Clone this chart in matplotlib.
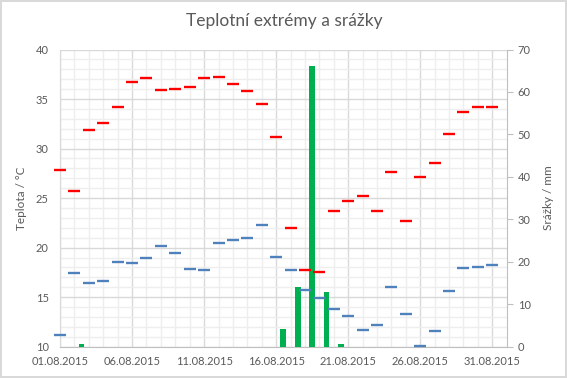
import numpy as np
import pandas as pd
import matplotlib
matplotlib.use("Agg")
import matplotlib.pyplot as plt
import matplotlib.dates as mdates
from matplotlib.ticker import MultipleLocator, FixedLocator

plt.rcParams['font.family'] = ['Lato', 'DejaVu Sans']

# data
dates = pd.date_range("2015-08-01", "2015-08-31", freq="D")
t_max = [27.8, 25.7, 31.9, 32.6, 34.2, 36.7, 37.1, 35.9, 36.0, 36.2,
         37.1, 37.2, 36.5, 35.8, 34.5, 31.2, 22.0, 17.7, 17.5, 23.7,
         24.7, 25.2, 23.7, 27.6, 22.7, 27.1, 28.5, 31.5, 33.7, 34.2, 34.2]
t_min = [11.2, 17.4, 16.4, 16.6, 18.5, 18.4, 19.0, 20.2, 19.5, 17.8,
         17.7, 20.5, 20.8, 21.0, 22.3, 19.1, 17.7, 15.7, 14.9, 13.8,
         13.1, 11.7, 12.2, 16.0, 13.3, 10.1, 11.6, 15.6, 17.9, 18.0, 18.2]
precip = [0.0, 0.6, 0.0, 0.0, 0.0, 0.0, 0.0, 0.0, 0.0, 0.0,
          0.0, 0.0, 0.0, 0.0, 0.0, 4.2, 14.1, 66.2, 12.9, 0.6,
          0.0, 0.0, 0.0, 0.0, 0.0, 0.0, 0.0, 0.0, 0.0, 0.0, 0.0]

txt = '#595959'
major_c = '#D9D9D9'
minor_c = '#EEEEEE'

fig = plt.figure(figsize=(5.67, 3.78), dpi=100)
fig.patch.set_edgecolor('#D9D9D9')
fig.patch.set_linewidth(1.5)
ax = fig.add_axes([60/567, 1-346.7/378, 446.7/567, 297.2/378])
ax2 = ax.twinx()

x = mdates.date2num(dates)

# srazky - sloupce mezi dny
ax2.bar(x + 0.5, precip, width=0.4, color='#00B050', zorder=2)

# teploty na ax2, ale v souradnicich ax (aby byly nad sloupci)
ax2.plot(x, t_max, linestyle='none', marker='_', ms=8.6, mew=1.7,
         color='#FF0000', transform=ax.transData, zorder=3, clip_on=False)
ax2.plot(x, t_min, linestyle='none', marker='_', ms=8.6, mew=1.7,
         color='#4F81BD', transform=ax.transData, zorder=3, clip_on=False)

ax.set_xlim(x[0], x[-1] + 1)
ax.set_ylim(10, 40)
ax2.set_ylim(0, 70)

ax.xaxis.set_major_locator(FixedLocator(x[::5]))
ax.xaxis.set_minor_locator(FixedLocator(x))
ax.xaxis.set_major_formatter(mdates.DateFormatter("%d.%m.%Y"))
ax.yaxis.set_major_locator(MultipleLocator(5))
ax.yaxis.set_minor_locator(MultipleLocator(1))
ax2.yaxis.set_major_locator(MultipleLocator(10))

ax.grid(which='major', color=major_c, lw=1.0)
ax.grid(which='minor', color=minor_c, lw=1.0)
ax.set_axisbelow(True)

for s in ['top', 'right']:
    ax.spines[s].set_visible(False)
for s in ['top', 'left', 'bottom']:
    ax2.spines[s].set_visible(False)
ax.spines['left'].set_color(major_c)
ax.spines['bottom'].set_color('#BFBFBF')
ax2.spines['right'].set_color('#BFBFBF')

ax.tick_params(axis='both', which='both', length=0, colors=txt, labelsize=8)
ax.tick_params(axis='y', pad=8)
ax.tick_params(axis='x', pad=7)
ax2.tick_params(axis='y', length=4, color='#BFBFBF', labelcolor=txt, labelsize=8, pad=4)

ax.set_ylabel("Teplota / °C", color=txt, fontsize=8.5)
ax.yaxis.set_label_coords(-0.074, 0.5)
ax2.set_ylabel("Srážky / mm", color=txt, fontsize=8.5, rotation=90)
ax2.yaxis.set_label_coords(1.081, 0.5)

fig.text(284/567, 1-21/378, "Teplotní extrémy a srážky", ha='center', va='center',
         color=txt, fontsize=12.5)

fig.savefig("out.png", dpi=100, edgecolor=fig.get_edgecolor())
